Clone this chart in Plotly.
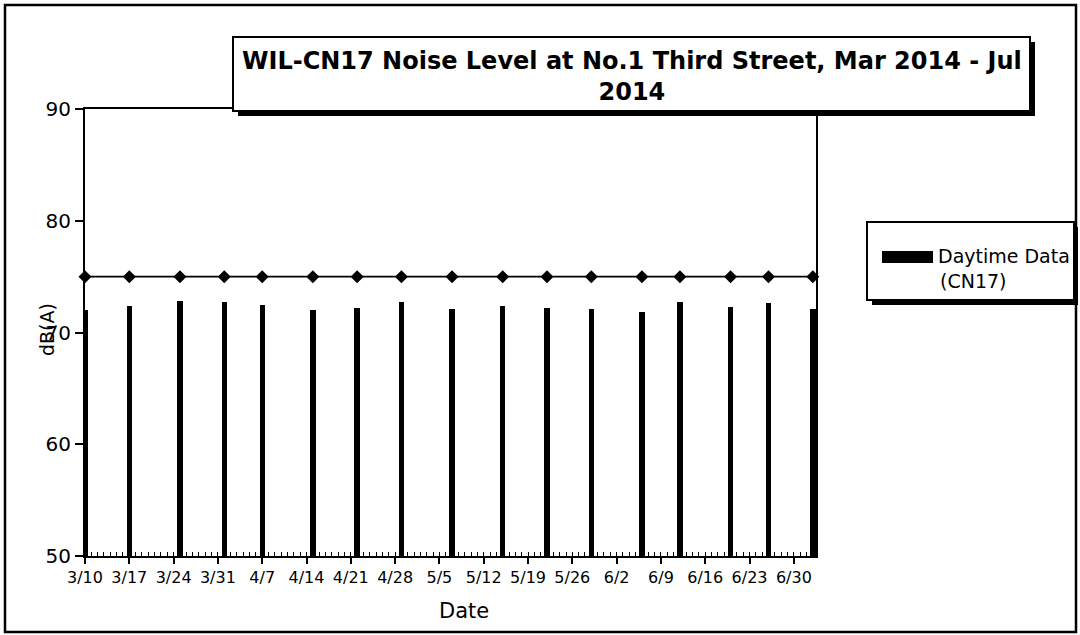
import plotly.graph_objects as go

# Weekly daytime noise measurements at CN17, Mar - Jul 2014
dates = ["2014-03-10", "2014-03-17", "2014-03-25", "2014-04-01", "2014-04-07",
         "2014-04-15", "2014-04-22", "2014-04-29", "2014-05-07", "2014-05-15",
         "2014-05-22", "2014-05-29", "2014-06-06", "2014-06-12", "2014-06-20",
         "2014-06-26", "2014-07-03"]
daytime_db = [72.0, 72.4, 72.8, 72.7, 72.5, 72.0, 72.2, 72.7, 72.1, 72.4,
              72.2, 72.1, 71.8, 72.7, 72.3, 72.6, 72.1]
limit_db = [75, 75, 75, 75, 75, 75, 75, 75, 75, 75, 75, 75, 75, 75, 75, 75, 75]

tick_dates = ["2014-03-10", "2014-03-17", "2014-03-24", "2014-03-31", "2014-04-07",
              "2014-04-14", "2014-04-21", "2014-04-28", "2014-05-05", "2014-05-12",
              "2014-05-19", "2014-05-26", "2014-06-02", "2014-06-09", "2014-06-16",
              "2014-06-23", "2014-06-30"]
tick_labels = ["3/10", "3/17", "3/24", "3/31", "4/7", "4/14", "4/21", "4/28", "5/5",
               "5/12", "5/19", "5/26", "6/2", "6/9", "6/16", "6/23", "6/30"]

FONT = "DejaVu Sans"
W, H = 1080, 635
L, R, T, B = 85, 816, 109, 556   # plot area edges in pixels
DAY_MS = 86400000


def px(x):
    return (x - L) / (R - L)


def py(y):
    return (B - y) / (B - T)


fig = go.Figure()

fig.add_trace(go.Bar(
    x=dates, y=daytime_db, name="Daytime Data (CN17)",
    marker=dict(color="black", line=dict(width=0)),
    width=0.85 * DAY_MS, showlegend=False,
))

fig.add_trace(go.Scatter(
    x=dates, y=limit_db, name="Limit", mode="lines+markers",
    line=dict(color="black", width=1.8),
    marker=dict(symbol="diamond", size=10, color="black"),
    showlegend=False, cliponaxis=False,
))

shapes = [
    # outer chart border
    dict(type="rect", xref="paper", yref="paper",
         x0=px(5), x1=px(1076), y0=py(632), y1=py(5),
         line=dict(color="black", width=2.5), fillcolor="rgba(0,0,0,0)", layer="above"),
    # title box with drop shadow
    dict(type="rect", xref="paper", yref="paper",
         x0=px(238), x1=px(1035), y0=py(116), y1=py(42),
         line=dict(width=0), fillcolor="black", layer="above"),
    dict(type="rect", xref="paper", yref="paper",
         x0=px(233), x1=px(1030), y0=py(111), y1=py(37),
         line=dict(color="black", width=2), fillcolor="white", layer="above"),
    # legend box with drop shadow
    dict(type="rect", xref="paper", yref="paper",
         x0=px(872), x1=px(1078), y0=py(305), y1=py(227),
         line=dict(width=0), fillcolor="black", layer="above"),
    dict(type="rect", xref="paper", yref="paper",
         x0=px(867), x1=px(1074), y0=py(300), y1=py(222),
         line=dict(color="black", width=2), fillcolor="white", layer="above"),
    # legend swatch
    dict(type="rect", xref="paper", yref="paper",
         x0=px(882), x1=px(933), y0=py(263), y1=py(251),
         line=dict(width=0), fillcolor="black", layer="above"),
]

annotations = [
    dict(text="<b>WIL-CN17 Noise Level at No.1 Third Street, Mar 2014 - Jul<br>2014</b>",
         xref="paper", yref="paper", x=px(632), y=py(76), xanchor="center", yanchor="middle",
         showarrow=False, font=dict(family=FONT, size=24, color="black")),
    dict(text="Daytime Data", xref="paper", yref="paper", x=px(936), y=py(256),
         xanchor="left", yanchor="middle", showarrow=False,
         font=dict(family=FONT, size=19, color="black")),
    dict(text="(CN17)", xref="paper", yref="paper", x=px(938), y=py(281),
         xanchor="left", yanchor="middle", showarrow=False,
         font=dict(family=FONT, size=19, color="black")),
    dict(text="dB(A)", xref="paper", yref="paper", x=px(47), y=py(330),
         xanchor="center", yanchor="middle", textangle=-90, showarrow=False,
         font=dict(family=FONT, size=19, color="black")),
    dict(text="Date", xref="paper", yref="paper", x=px(464), y=py(611),
         xanchor="center", yanchor="middle", showarrow=False,
         font=dict(family=FONT, size=21, color="black")),
]

fig.update_layout(
    width=W, height=H,
    margin=dict(l=L, r=W - R, t=T, b=H - B, pad=0),
    paper_bgcolor="white", plot_bgcolor="white",
    bargap=0, showlegend=False,
    shapes=shapes, annotations=annotations,
    xaxis=dict(
        type="date", range=["2014-03-10", "2014-07-03 12:00"],
        tickmode="array", tickvals=tick_dates, ticktext=tick_labels,
        ticks="outside", ticklen=6, tickwidth=1.5, tickcolor="black",
        showline=True, linecolor="black", linewidth=2, mirror=True,
        showgrid=False, zeroline=False,
        tickfont=dict(family=FONT, size=16, color="black"),
        minor=dict(tickmode="linear", tick0="2014-03-10", dtick=DAY_MS,
                   ticks="inside", ticklen=4, tickwidth=1, tickcolor="black",
                   showgrid=False),
    ),
    yaxis=dict(
        range=[50, 90], tickvals=[50, 60, 70, 80, 90],
        ticks="outside", ticklen=8, tickwidth=2, tickcolor="black",
        showline=True, linecolor="black", linewidth=2, mirror=True,
        showgrid=False, zeroline=False,
        tickfont=dict(family=FONT, size=20, color="black"),
    ),
)

fig.write_html("out.html")
